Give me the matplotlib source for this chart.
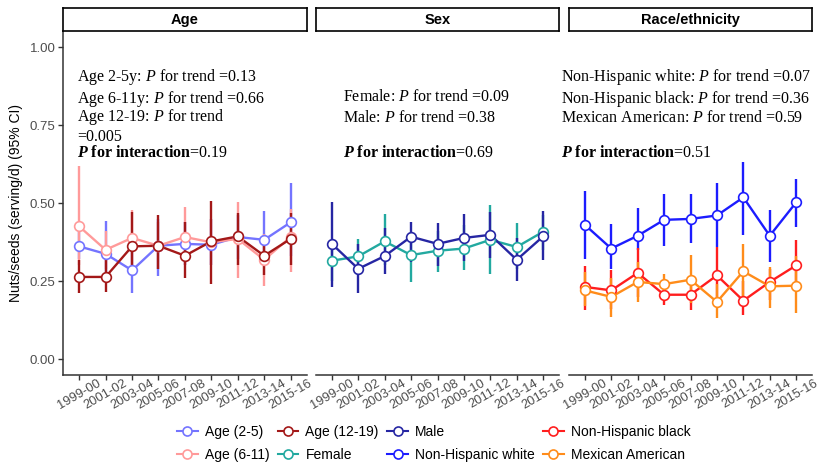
import matplotlib
matplotlib.use("Agg")
import matplotlib.pyplot as plt
from matplotlib.lines import Line2D

plt.rcParams['font.family'] = ['Liberation Sans', 'DejaVu Sans']
plt.rcParams['mathtext.fontset'] = 'custom'
plt.rcParams['mathtext.rm'] = 'Liberation Serif'
plt.rcParams['mathtext.it'] = 'Liberation Serif:italic'
plt.rcParams['mathtext.bf'] = 'Liberation Serif:bold'
plt.rcParams['mathtext.bfit'] = 'Liberation Serif:italic:bold'

# ---------------- data ----------------
periods = ["1999-00", "2001-02", "2003-04", "2005-06", "2007-08",
           "2009-10", "2011-12", "2013-14", "2015-16"]

age_2_5 = [0.361, 0.337, 0.284, 0.363, 0.369, 0.366, 0.391, 0.382, 0.438]
age_2_5_lo = [0.32, 0.27, 0.213, 0.265, 0.30, 0.30, 0.32, 0.30, 0.33]
age_2_5_hi = [0.41, 0.443, 0.36, 0.45, 0.44, 0.45, 0.46, 0.475, 0.564]

age_6_11 = [0.425, 0.350, 0.388, 0.363, 0.391, 0.374, 0.385, 0.318, 0.391]
age_6_11_lo = [0.30, 0.29, 0.30, 0.29, 0.30, 0.30, 0.259, 0.234, 0.28]
age_6_11_hi = [0.62, 0.41, 0.478, 0.44, 0.488, 0.45, 0.502, 0.40, 0.48]

age_12_19 = [0.263, 0.263, 0.361, 0.363, 0.331, 0.377, 0.393, 0.331, 0.385]
age_12_19_lo = [0.21, 0.216, 0.27, 0.29, 0.259, 0.239, 0.30, 0.269, 0.301]
age_12_19_hi = [0.317, 0.32, 0.47, 0.461, 0.44, 0.507, 0.467, 0.38, 0.467]

female = [0.315, 0.329, 0.377, 0.333, 0.347, 0.354, 0.382, 0.359, 0.408]
female_lo = [0.25, 0.27, 0.30, 0.246, 0.278, 0.284, 0.273, 0.29, 0.35]
female_hi = [0.38, 0.385, 0.466, 0.40, 0.41, 0.43, 0.492, 0.436, 0.46]

male = [0.369, 0.289, 0.330, 0.392, 0.369, 0.388, 0.398, 0.318, 0.393]
male_lo = [0.231, 0.213, 0.273, 0.31, 0.297, 0.313, 0.324, 0.249, 0.316]
male_hi = [0.502, 0.37, 0.42, 0.439, 0.436, 0.466, 0.47, 0.388, 0.473]

nh_white = [0.430, 0.354, 0.395, 0.446, 0.449, 0.460, 0.518, 0.395, 0.502]
nh_white_lo = [0.321, 0.289, 0.35, 0.361, 0.372, 0.359, 0.398, 0.31, 0.423]
nh_white_hi = [0.540, 0.434, 0.484, 0.53, 0.529, 0.564, 0.633, 0.476, 0.577]

nh_black = [0.231, 0.220, 0.276, 0.206, 0.206, 0.268, 0.187, 0.247, 0.300]
nh_black_lo = [0.158, 0.16, 0.20, 0.173, 0.157, 0.19, 0.141, 0.19, 0.22]
nh_black_hi = [0.297, 0.285, 0.356, 0.25, 0.25, 0.36, 0.25, 0.29, 0.381]

mex_am = [0.220, 0.199, 0.247, 0.240, 0.254, 0.183, 0.281, 0.233, 0.235]
mex_am_lo = [0.17, 0.136, 0.184, 0.20, 0.18, 0.13, 0.20, 0.162, 0.146]
mex_am_hi = [0.28, 0.26, 0.31, 0.271, 0.333, 0.24, 0.368, 0.294, 0.33]

y_ticks = [0.00, 0.25, 0.50, 0.75, 1.00]
y_tick_labels = ["0.00", "0.25", "0.50", "0.75", "1.00"]

panel_titles = ["Age", "Sex", "Race/ethnicity"]

groups = {
    "Age": [
        ("Age (2-5)", age_2_5, age_2_5_lo, age_2_5_hi, "#7474FF"),
        ("Age (6-11)", age_6_11, age_6_11_lo, age_6_11_hi, "#FF9A9A"),
        ("Age (12-19)", age_12_19, age_12_19_lo, age_12_19_hi, "#A31818"),
    ],
    "Sex": [
        ("Female", female, female_lo, female_hi, "#22A9A0"),
        ("Male", male, male_lo, male_hi, "#2626A3"),
    ],
    "Race/ethnicity": [
        ("Non-Hispanic white", nh_white, nh_white_lo, nh_white_hi, "#1C1CFF"),
        ("Non-Hispanic black", nh_black, nh_black_lo, nh_black_hi, "#FF1E1E"),
        ("Mexican American", mex_am, mex_am_lo, mex_am_hi, "#FF8C1A"),
    ],
}

annotations = {
    "Age": [
        (r"Age 2-5y: $\mathit{P}$ for trend =0.13", 0.905),
        (r"Age 6-11y: $\mathit{P}$ for trend =0.66", 0.834),
        (r"Age 12-19: $\mathit{P}$ for trend" + "\n=0.005", 0.746),
        (r"$\mathbfit{P}$ $\mathbf{for\ interaction}$=0.19", 0.661),
    ],
    "Sex": [
        (r"Female: $\mathit{P}$ for trend =0.09", 0.841),
        (r"Male: $\mathit{P}$ for trend =0.38", 0.773),
        (r"$\mathbfit{P}$ $\mathbf{for\ interaction}$=0.69", 0.661),
    ],
    "Race/ethnicity": [
        (r"Non-Hispanic white: $\mathit{P}$ for trend =0.07", 0.905),
        (r"Non-Hispanic black: $\mathit{P}$ for trend =0.36", 0.834),
        (r"Mexican American: $\mathit{P}$ for trend =0.59", 0.773),
        (r"$\mathbfit{P}$ $\mathbf{for\ interaction}$=0.51", 0.661),
    ],
}
annot_x = {"Age": 0.93, "Sex": 1.42, "Race/ethnicity": 0.10}

# ---------------- layout ----------------
W, H = 823, 463
fig = plt.figure(figsize=(W / 100, H / 100), dpi=100)

def rect(l, r, t, b):
    return [l / W, 1 - b / H, (r - l) / W, (b - t) / H]

panel_px = [(63.3, 306.5), (316.0, 559.0), (569.0, 812.0)]
top_px, bot_px = 31.4, 374.6
strip_top = 8.3

x = list(range(1, len(periods) + 1))
axis_col = "#333333"
handles = []

for i, title in enumerate(panel_titles):
    l, r = panel_px[i]
    ax = fig.add_axes(rect(l, r, top_px, bot_px))
    ax.set_xlim(0.4, len(periods) + 0.6)
    ax.set_ylim(-0.05, 1.05)
    for s in ["top", "right"]:
        ax.spines[s].set_visible(False)
    ax.spines["bottom"].set_color(axis_col)
    ax.spines["bottom"].set_linewidth(1.1)
    if i == 0:
        ax.spines["left"].set_color(axis_col)
        ax.spines["left"].set_linewidth(1.1)
        ax.set_yticks(y_ticks)
        ax.set_yticklabels(y_tick_labels, fontsize=9.5, color="#4D4D4D")
        ax.tick_params(axis="y", length=3.5, width=1.0, color=axis_col, pad=2)
    else:
        ax.spines["left"].set_visible(False)
        ax.set_yticks([])
    ax.set_xticks(x)
    ax.set_xticklabels(periods, rotation=30, ha="center", va="center",
                       rotation_mode="anchor", fontsize=9.3, color="#4D4D4D")
    ax.tick_params(axis="x", length=3.5, width=1.0, color=axis_col, pad=10.5)

    grp = groups[title]
    for name, y, lo, hi, c in grp:
        ax.vlines(x, lo, hi, colors=c, lw=1.7, zorder=2)
    for name, y, lo, hi, c in grp:
        ax.plot(x, y, color=c, lw=1.7, zorder=3)
    for name, y, lo, hi, c in grp:
        ax.plot(x, y, "o", ms=7, mfc="white", mec=c, mew=1.2, zorder=4)
        handles.append((name, c))

    for txt, yv in annotations[title]:
        ax.text(annot_x[title], yv, txt, ha="left", va="center",
                fontsize=11.5, family="Liberation Serif", linespacing=1.15,
                clip_on=False, zorder=5)

    # strip
    sax = fig.add_axes(rect(l, r, strip_top, top_px))
    sax.set_xticks([])
    sax.set_yticks([])
    for s in sax.spines.values():
        s.set_color("black")
        s.set_linewidth(1.2)
    sax.text(0.5, 0.5, title, ha="center", va="center", fontsize=10.5,
             fontweight="bold", transform=sax.transAxes)

fig.text(16 / W, 1 - 203 / H, "Nuts/seeds (serving/d) (95% CI)", rotation=90,
         ha="center", va="center", fontsize=10)

leg_handles = [Line2D([0], [0], color=c, lw=1.5, marker="o", ms=6.5,
                      mfc="white", mec=c, mew=1.2) for _, c in handles]
leg_labels = [n for n, _ in handles]
fig.legend(leg_handles, leg_labels, ncol=4, loc="center",
           bbox_to_anchor=(0.527, 0.042), frameon=False, fontsize=10,
           handlelength=1.5, handletextpad=0.5, columnspacing=0.6,
           labelspacing=0.65, borderpad=0.2)

fig.savefig("out.png", dpi=100)
